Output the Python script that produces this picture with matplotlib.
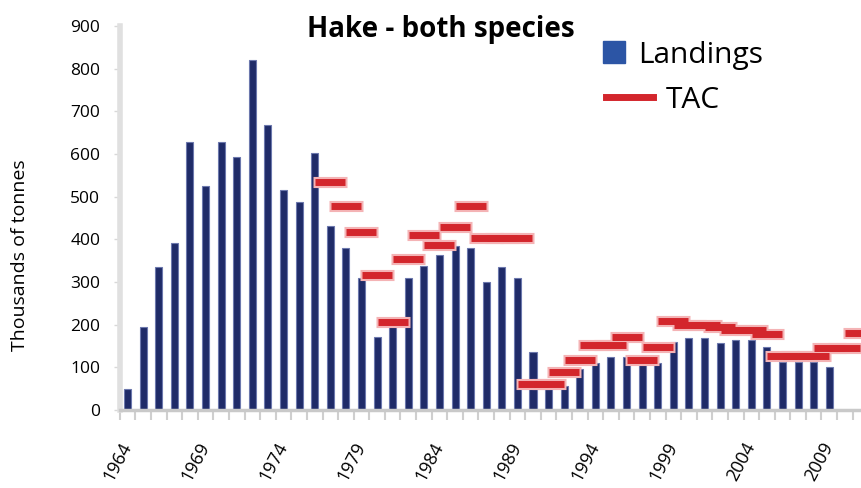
import matplotlib.pyplot as plt
import numpy as np
from matplotlib.lines import Line2D

plt.rcParams['font.family'] = ['Open Sans', 'DejaVu Sans']

# landings, thousands of tonnes, 1964-2009
years = np.arange(1964, 2010)
landings = [48, 195, 335, 392, 628, 525, 628, 593, 820, 668,
            515, 487, 603, 432, 380, 308, 172, 197, 310, 338,
            362, 385, 380, 300, 335, 310, 135, 50, 55, 95,
            110, 125, 125, 110, 110, 160, 168, 168, 156, 164,
            164, 148, 113, 113, 113, 101]

# TAC, 1977-2011
tac_years = np.arange(1977, 2012)
tac = [535, 478, 417, 316, 205, 354, 410, 387, 429, 478,
       403, 403, 403, 60, 60, 89, 117, 152, 152, 171,
       117, 148, 209, 198, 198, 195, 188, 188, 178, 127,
       127, 127, 145, 145, 180]

label_years = [1964, 1969, 1974, 1979, 1984, 1989, 1994, 1999, 2004, 2009]

bar_col = '#1f2b68'
tac_col = '#d3262c'

fig = plt.figure(figsize=(8.62, 4.88), dpi=100)
ax = fig.add_axes([0.139, 0.160, 0.861, 0.787])

ax.bar(years, landings, width=0.45, color=bar_col, edgecolor='#6c78ad',
       linewidth=0.8, zorder=2)
# soft halo then the TAC dashes
ax.plot(tac_years, tac, ls='none', marker='_', ms=24, mew=8,
        color='#f4b3b5', zorder=3)
ax.plot(tac_years, tac, ls='none', marker='_', ms=22, mew=5,
        color=tac_col, zorder=4)

ax.set_xlim(1963.5, 2011.1)
ax.set_ylim(0, 900)
ax.set_yticks(np.arange(0, 901, 100))
ax.set_xticks(label_years)
ax.set_xticklabels([str(y) for y in label_years], rotation=62,
                   ha='right', va='center', rotation_mode='anchor')
ax.set_xticks(np.arange(1963.5, 2011.5, 1), minor=True)

for s in ['top', 'right']:
    ax.spines[s].set_visible(False)
ax.spines['bottom'].set_color('#c9c9c9')
ax.spines['bottom'].set_linewidth(2.5)
ax.spines['left'].set_color('#e0e0e0')
ax.spines['left'].set_linewidth(4)

ax.tick_params(axis='x', which='major', length=0, pad=24, labelsize=13)
ax.tick_params(axis='x', which='minor', length=7, width=1.5, color='#cfcfcf')
ax.tick_params(axis='y', length=4, width=1, color='#d8d8d8', pad=10,
               labelsize=12.5)

ax.set_ylabel('Thousands of tonnes', fontsize=14)
ax.yaxis.set_label_coords(-0.122, 0.404)

fig.text(0.511, 0.94, 'Hake - both species', ha='center', va='center',
         fontsize=20, fontweight='bold')

# two legend boxes so the square and the dash can have their own lengths
leg1 = ax.legend([Line2D([], [], ls='none', marker='s', ms=16.5, color='#2c55a5')],
                 ['Landings'], loc='center left',
                 bbox_to_anchor=(0.698, 0.887), bbox_transform=fig.transFigure,
                 frameon=False, fontsize=21.5, handlelength=0.8,
                 handletextpad=0.42, borderaxespad=0, borderpad=0)
ax.add_artist(leg1)
ax.legend([Line2D([], [], color=tac_col, lw=5)], ['TAC'], loc='center left',
          bbox_to_anchor=(0.703, 0.795), bbox_transform=fig.transFigure,
          frameon=False, fontsize=21.5, handlelength=1.57,
          handletextpad=0.42, borderaxespad=0, borderpad=0)

plt.savefig('out.png', dpi=100)
